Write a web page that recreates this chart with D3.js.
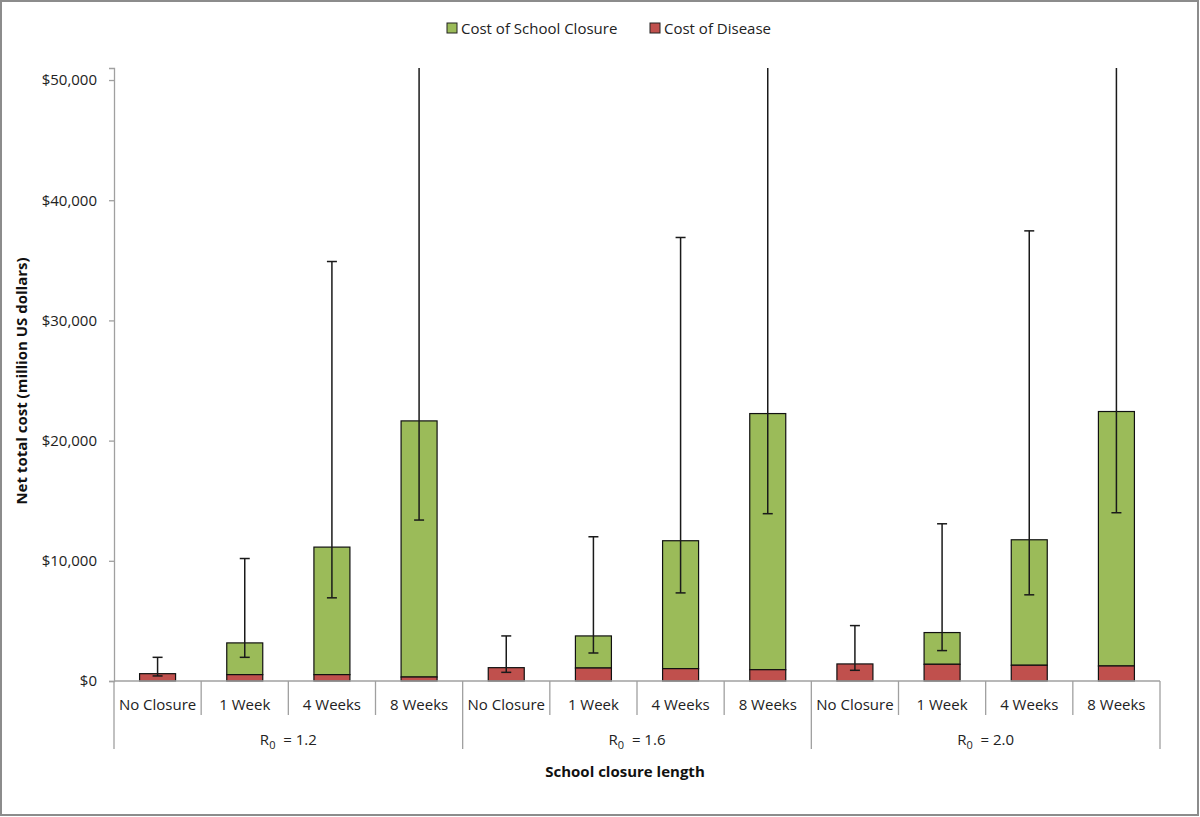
<!DOCTYPE html>
<html><head><meta charset="utf-8">
<script src="https://cdn.jsdelivr.net/npm/d3@7"></script>
<style>
body{margin:0;background:#fff;}
svg{display:block;font-family:"Open Sans","Liberation Sans",sans-serif;}
</style></head>
<body><svg id="c" width="1200" height="817"></svg>
<script>
const groups = ["1.2", "1.6", "2.0"];
const lengths = ["No Closure", "1 Week", "4 Weeks", "8 Weeks"];
// Cost of disease (million US$), per group x length
const diseaseCost = [610, 530, 530, 330, 1110, 1080, 1030, 940, 1420, 1390, 1310, 1250];
// Cost of school closure (stacked on disease)
const closureCost = [0, 2640, 10610, 21310, 0, 2670, 10640, 21310, 0, 2640, 10440, 21170];
// Error bar bounds on net total cost
const errLow = [420, 1970, 6920, 13390, 720, 2330, 7330, 13920, 890, 2530, 7170, 14000];
const errHigh = [1970, 10190, 34900, 60000, 3750, 12000, 36900, 60000, 4610, 13080, 37450, 60000];
const yTicks = [0, 10000, 20000, 30000, 40000, 50000];
const seriesNames = ["Cost of School Closure", "Cost of Disease"];
const seriesColors = ["#9BBB59", "#C0504D"];

(function(){
const svg = d3.select("#c");
// outer frame
svg.append("rect").attr("x",1).attr("y",1).attr("width",1197).attr("height",814)
  .attr("fill","#fff").attr("stroke","#8c8c8c").attr("stroke-width",2);

const pL=114, pR=1160, pT=68, pB=681;
const cats = [];
groups.forEach((g,gi)=>lengths.forEach((l,li)=>cats.push({g,gi,l,li,i:gi*4+li})));
const x = d3.scaleBand().domain(cats.map(c=>c.i)).range([pL,pR]).padding(0);
const y = d3.scaleLinear().domain([0,51000]).range([pB,pT]);
const bw = 36;

svg.append("defs").append("clipPath").attr("id","clip")
  .append("rect").attr("x",pL).attr("y",pT).attr("width",pR-pL).attr("height",pB-pT);

// y axis
const yAxis = d3.axisLeft(y).tickValues(yTicks).tickSize(5).tickPadding(12)
  .tickFormat(d=>"$"+d3.format(",")(d));
const ya = svg.append("g").attr("transform",`translate(${pL},0)`).call(yAxis);
ya.select(".domain").attr("stroke","#a0a0a0").attr("stroke-width",1.3);
ya.selectAll(".tick line").attr("stroke","#a0a0a0").attr("stroke-width",1.3);
ya.selectAll(".tick text").attr("font-size",15).attr("fill","#222").style("font-family","'Open Sans',sans-serif");

// bars
const g = svg.append("g");
cats.forEach(c=>{
  const cx = x(c.i)+x.bandwidth()/2;
  const d = diseaseCost[c.i], s = closureCost[c.i];
  if (s>0) g.append("rect").attr("x",cx-bw/2).attr("y",y(d+s)).attr("width",bw).attr("height",y(d)-y(d+s))
    .attr("fill",seriesColors[0]).attr("stroke","#111").attr("stroke-width",1.2);
  g.append("rect").attr("x",cx-bw/2).attr("y",y(d)).attr("width",bw).attr("height",y(0)-y(d))
    .attr("fill",seriesColors[1]).attr("stroke","#111").attr("stroke-width",1.2);
});
// error bars
const eg = svg.append("g").attr("clip-path","url(#clip)").attr("stroke","#1a1a1a").attr("stroke-width",1.5);
cats.forEach(c=>{
  const cx = x(c.i)+x.bandwidth()/2;
  const lo=y(errLow[c.i]), hi=y(errHigh[c.i]);
  eg.append("line").attr("x1",cx).attr("x2",cx).attr("y1",lo).attr("y2",hi);
  eg.append("line").attr("x1",cx-5).attr("x2",cx+5).attr("y1",lo).attr("y2",lo);
  eg.append("line").attr("x1",cx-5).attr("x2",cx+5).attr("y1",hi).attr("y2",hi);
});

// x axis line
svg.append("line").attr("x1",pL).attr("x2",pR).attr("y1",pB).attr("y2",pB)
  .attr("stroke","#a0a0a0").attr("stroke-width",1.3);
// category dividers
const xa = svg.append("g").attr("stroke","#a0a0a0").attr("stroke-width",1.3);
cats.forEach(c=>{
  const xl = x(c.i);
  const isGroup = c.li===0;
  xa.append("line").attr("x1",xl).attr("x2",xl).attr("y1",pB).attr("y2",isGroup?749:715);
});
xa.append("line").attr("x1",pR).attr("x2",pR).attr("y1",pB).attr("y2",749);

// category labels
svg.append("g").selectAll("text").data(cats).join("text")
  .attr("x",c=>x(c.i)+x.bandwidth()/2).attr("y",710).attr("text-anchor","middle")
  .attr("font-size",15).attr("fill","#222").text(c=>c.l);
// group labels
groups.forEach((gname,gi)=>{
  const x0 = x(gi*4), x1 = x(gi*4+3)+x.bandwidth();
  const t = svg.append("text").attr("x",(x0+x1)/2).attr("y",745).attr("text-anchor","middle")
    .attr("font-size",15).attr("fill","#222");
  t.append("tspan").text("R");
  t.append("tspan").attr("font-size",11).attr("dy",4).text("0");
  t.append("tspan").attr("dy",-4).text("\u00a0 = "+gname);
});

// axis titles
svg.append("text").attr("x",625).attr("y",777).attr("text-anchor","middle")
  .attr("font-size",15).attr("font-weight","bold").attr("fill","#111").text("School closure length");
svg.append("text").attr("transform","translate(27,381) rotate(-90)").attr("text-anchor","middle")
  .attr("font-size",15).attr("font-weight","bold").attr("fill","#111").text("Net total cost (million US dollars)");

// legend
const lg = svg.append("g");
const legX = [447, 650];
seriesNames.forEach((n,i)=>{
  lg.append("rect").attr("x",legX[i]).attr("y",23).attr("width",10).attr("height",10)
    .attr("fill",seriesColors[i]).attr("stroke","#222").attr("stroke-width",1);
  lg.append("text").attr("x",legX[i]+14).attr("y",34).attr("font-size",15).attr("fill","#222").text(n);
});
})();
</script></body></html>
